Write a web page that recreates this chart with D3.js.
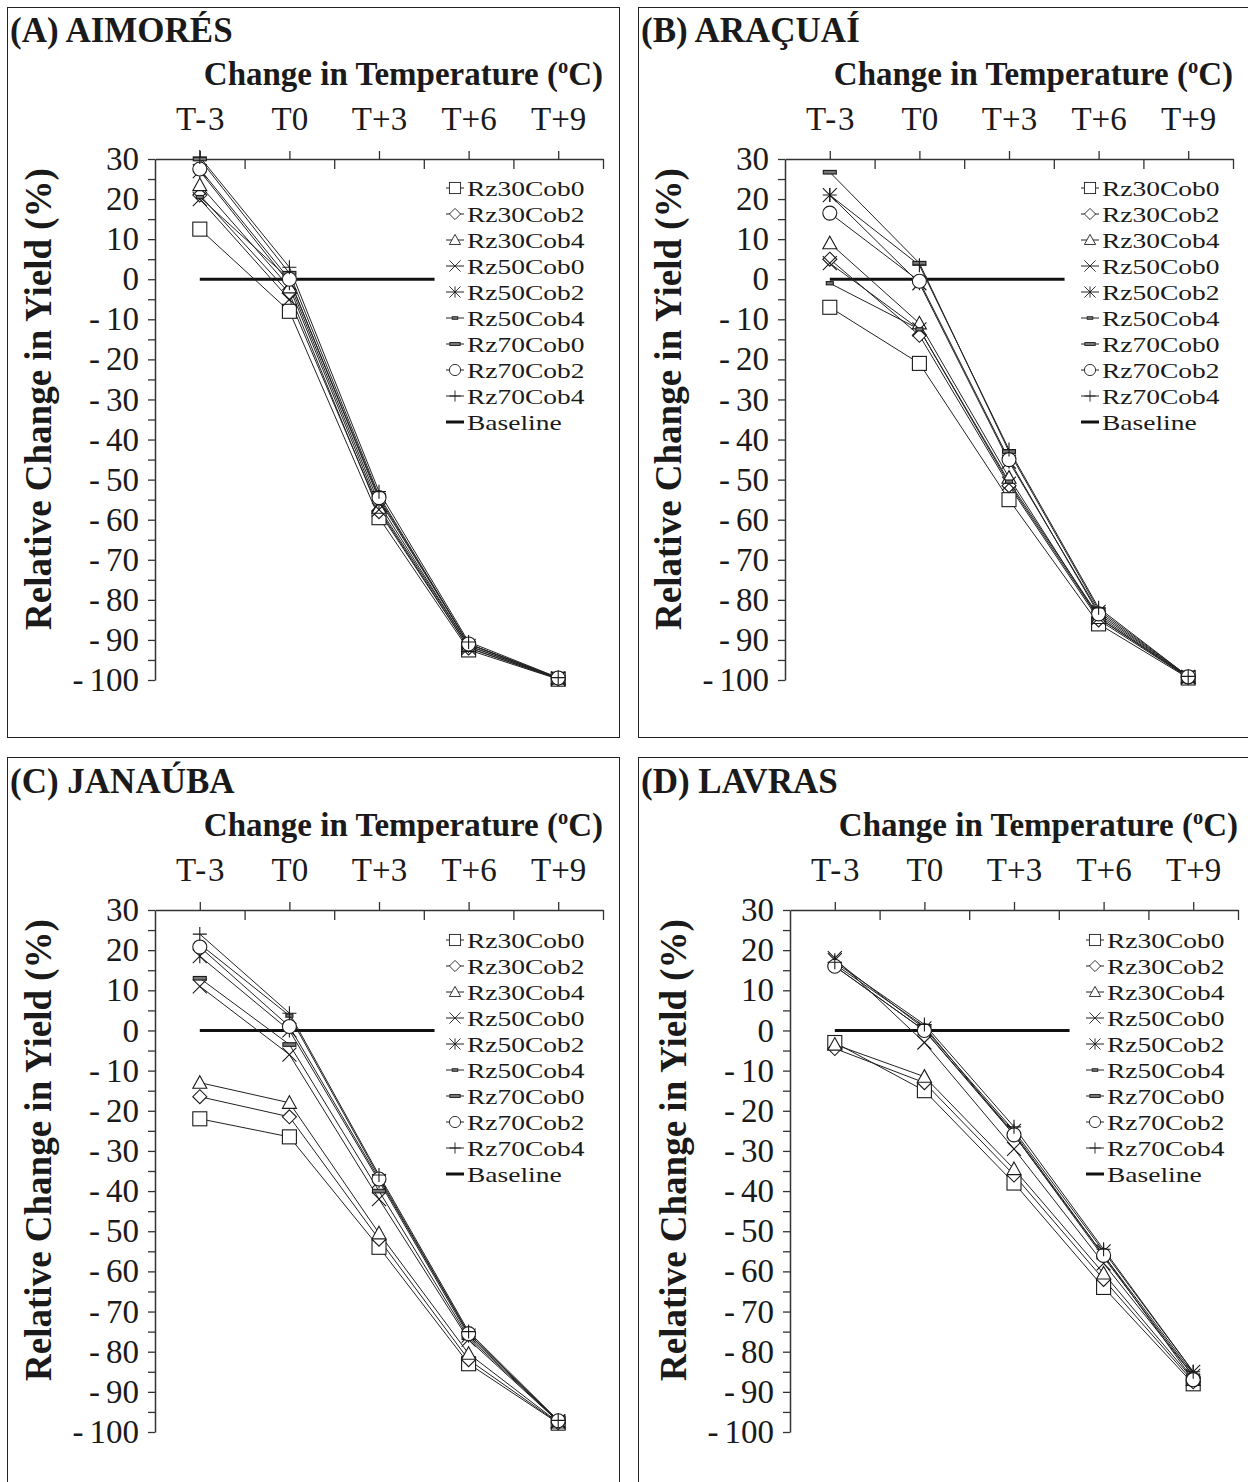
<!DOCTYPE html>
<html><head><meta charset="utf-8">
<script src="https://cdn.jsdelivr.net/npm/d3@7"></script>
<style>
body{margin:0;background:#fff}
text{font-family:"Liberation Serif","Times New Roman",serif;fill:#1a1a1a}
</style>
</head><body>
<svg id="chart" width="1248" height="1482"></svg>
<script>
// ---------- DATA ----------
const categories = ["T-3", "T0", "T+3", "T+6", "T+9"];
const seriesNames = ["Rz30Cob0","Rz30Cob2","Rz30Cob4","Rz50Cob0","Rz50Cob2","Rz50Cob4","Rz70Cob0","Rz70Cob2","Rz70Cob4"];
const yTickValues = [30, 20, 10, 0, -10, -20, -30, -40, -50, -60, -70, -80, -90, -100];
const panelTitles = ["(A) AIMORÉS", "(B) ARAÇUAÍ", "(C) JANAÚBA", "(D) LAVRAS"];
const xAxisTitle = "Change in Temperature (";
const yAxisTitle = "Relative Change in Yield (%)";
const baselineValue = 0;
const baselineSpan = [0, 2.62]; // category index range covered by the Baseline line

const aimoresValues = [
  [12.5, -8, -59.5, -92.5, -99.8],
  [21, -3.5, -58, -92, -99.7],
  [23.5, -2, -57, -91.5, -99.6],
  [20, -5, -57.5, -92, -99.7],
  [27, -1, -56, -91.5, -99.6],
  [20.5, 0, -55, -91, -99.5],
  [30, 1.5, -54, -91, -99.5],
  [27.5, 0, -54.5, -91, -99.5],
  [30.5, 3, -53, -90.5, -99.4]
];
const aracuaiValues = [
  [-7, -21, -55, -86, -99.5],
  [5, -14, -51.5, -85, -99.4],
  [9, -11, -49.5, -84.5, -99.3],
  [4, -12.5, -51, -84.5, -99.3],
  [21, -1, -45.5, -83, -99.2],
  [-1, -12.5, -50.5, -84, -99.3],
  [26.7, 4, -43, -82.5, -99.1],
  [16.5, -0.5, -45, -83.5, -99.2],
  [21, 3.5, -42.5, -82, -99.1]
];
const janaubaValues = [
  [-22, -26.5, -54, -83, -97.8],
  [-16.5, -21.5, -52, -82, -97.7],
  [-13, -18, -50.5, -80.5, -97.6],
  [11, -6, -42, -77, -97.4],
  [18.5, 0, -37.5, -76, -97.3],
  [21.5, 3.7, -36.5, -75.5, -97.2],
  [13, -3.5, -40, -76.5, -97.3],
  [20.8, 1, -37, -75.5, -97.2],
  [24, 4.3, -36, -75, -97.1]
];
const lavrasValues = [
  [-3, -15, -38, -64, -88],
  [-4.5, -13, -36, -62, -87.5],
  [-3.5, -11.5, -34.5, -60.5, -87],
  [18, -3, -29.5, -58, -86],
  [17.5, 0.5, -25, -55, -85],
  [16, 0, -25.5, -56, -85.5],
  [16.5, 1, -26, -56.5, -86],
  [16, 0, -26, -56, -87],
  [17, 1.5, -24, -54.5, -85]
];

// ---------- LAYOUT ----------
const panels = [
  {title: panelTitles[0], values: aimoresValues, box:[7.5,7.5], x0:155, x1:603, yTop:159, yBot:680, titleY:42, ytX:40, legX:455, legY:188},
  {title: panelTitles[1], values: aracuaiValues, box:[638.5,7.5], x0:785, x1:1233, yTop:159, yBot:680, titleY:42, ytX:670, legX:1090, legY:188},
  {title: panelTitles[2], values: janaubaValues, box:[7.5,757.5], x0:155, x1:603, yTop:910, yBot:1432, titleY:793, ytX:40, legX:455, legY:940},
  {title: panelTitles[3], values: lavrasValues, box:[638.5,757.5], x0:790, x1:1238, yTop:910, yBot:1432, titleY:793, ytX:675, legX:1095, legY:940}
];

const svg = d3.select("#chart");
const FONT = '"Liberation Serif","Times New Roman",serif';
const FS_TICK = 33, FS_TITLE = 35, FS_XTITLE = 33, FS_YTITLE = 37, FS_LEG = 22;

// split text around hyphens with a little extra spacing (wide dash look)
function spacedDash(sel, gapBefore, gapAfter) {
  sel.each(function() {
    const t = d3.select(this);
    const s = t.text();
    const k = s.indexOf("-");
    if (k < 0) return;
    t.text(null);
    if (k > 0) t.append("tspan").text(s.slice(0, k));
    t.append("tspan").attr("dx", k > 0 ? gapBefore : 0).text("-");
    t.append("tspan").attr("dx", gapAfter).text(s.slice(k + 1));
  });
}

// marker drawing
function marker(g, idx, cx, cy) {
  const s = 7;
  const st = {stroke:"#1a1a1a", "stroke-width":1.1, fill:"#fff"};
  let el;
  switch (idx) {
    case 0: el = g.append("rect").attr("x", cx-s).attr("y", cy-s).attr("width", 2*s).attr("height", 2*s); break;
    case 1: el = g.append("path").attr("d", `M${cx},${cy-s}L${cx+s},${cy}L${cx},${cy+s}L${cx-s},${cy}Z`); break;
    case 2: el = g.append("path").attr("d", `M${cx},${cy-s}L${cx+s},${cy+s*0.8}L${cx-s},${cy+s*0.8}Z`); break;
    case 3: el = g.append("path").attr("d", `M${cx-s},${cy-s}L${cx+s},${cy+s}M${cx+s},${cy-s}L${cx-s},${cy+s}`); break;
    case 4: el = g.append("path").attr("d", `M${cx-s},${cy-s}L${cx+s},${cy+s}M${cx+s},${cy-s}L${cx-s},${cy+s}M${cx},${cy-s}L${cx},${cy+s}`); break;
    case 5: el = g.append("rect").attr("x", cx-3.5).attr("y", cy-1.6).attr("width", 7).attr("height", 3.2); st.fill = "#777"; break;
    case 6: el = g.append("rect").attr("x", cx-6.5).attr("y", cy-1.8).attr("width", 13).attr("height", 3.6); st.fill = "#777"; break;
    case 7: el = g.append("circle").attr("cx", cx).attr("cy", cy).attr("r", s); break;
    case 8: el = g.append("path").attr("d", `M${cx-s},${cy}L${cx+s},${cy}M${cx},${cy-s}L${cx},${cy+s}`); break;
  }
  Object.entries(st).forEach(([k,v]) => el.attr(k, v));
  if (idx === 3 || idx === 4 || idx === 8) el.attr("fill", "none");
}

panels.forEach(p => {
  const g = svg.append("g");
  g.append("rect").attr("x", p.box[0]).attr("y", p.box[1]).attr("width", 612).attr("height", 730)
    .attr("fill", "none").attr("stroke", "#222").attr("stroke-width", 1);

  const xp = d3.scalePoint().domain(categories).range([p.x0, p.x1]).padding(0.5);
  const xi = d3.scaleLinear().domain([-0.5, categories.length - 0.5]).range([p.x0, p.x1]);
  const y = d3.scaleLinear().domain([-100, 30]).range([p.yBot, p.yTop]);

  // top category axis
  const ax = g.append("g").attr("transform", `translate(0,${p.yTop})`)
    .call(d3.axisTop(xp).tickSize(8).tickSizeOuter(0).tickPadding(21));
  ax.select(".domain").attr("stroke", "#333").attr("stroke-width", 1.5);
  ax.selectAll(".tick line").attr("stroke", "#333").attr("stroke-width", 1.3);
  ax.selectAll(".tick text").attr("font-size", FS_TICK).attr("fill", "#1a1a1a").attr("font-family", FONT)
    .call(spacedDash, 2, 2);
  const ax2 = g.append("g").attr("transform", `translate(0,${p.yTop})`)
    .call(d3.axisTop(xi).tickValues(d3.range(0.5, categories.length, 1)).tickSize(-10).tickSizeOuter(0).tickFormat(""));
  ax2.select(".domain").remove();
  ax2.selectAll(".tick line").attr("stroke", "#333").attr("stroke-width", 1.3);

  // left value axis
  const ay = g.append("g").attr("transform", `translate(${p.x0},0)`)
    .call(d3.axisLeft(y).tickValues(d3.range(-100, 31, 5)).tickSize(7).tickSizeOuter(0).tickPadding(9)
      .tickFormat(d => yTickValues.includes(d) ? String(d) : ""));
  ay.select(".domain").attr("stroke", "#333").attr("stroke-width", 1.5);
  ay.selectAll(".tick line").attr("stroke", "#333").attr("stroke-width", 1.3);
  ay.selectAll(".tick text").attr("font-size", FS_TICK).attr("fill", "#1a1a1a").attr("font-family", FONT)
    .call(spacedDash, 0, 6);

  // titles
  g.append("text").attr("x", p.box[0] + 2.5).attr("y", p.titleY).attr("font-size", FS_TITLE).attr("font-weight", "bold").text(p.title);
  const xt = g.append("text").attr("x", p.x1).attr("y", p.titleY + 43).attr("text-anchor", "end")
    .attr("font-size", FS_XTITLE).attr("font-weight", "bold");
  xt.append("tspan").text(xAxisTitle);
  xt.append("tspan").attr("font-size", FS_XTITLE * 0.62).attr("dy", -12).text("o");
  xt.append("tspan").attr("dy", 12).text("C)");
  g.append("text").attr("transform", `translate(${p.ytX + 11},${p.yTop + 240}) rotate(-90)`)
    .attr("text-anchor", "middle").attr("font-size", FS_YTITLE).attr("font-weight", "bold").text(yAxisTitle);

  // baseline
  g.append("line").attr("x1", xi(baselineSpan[0])).attr("x2", xi(baselineSpan[1]))
    .attr("y1", y(baselineValue)).attr("y2", y(baselineValue)).attr("stroke", "#111").attr("stroke-width", 3);

  // series lines and markers
  const line = d3.line().x((d, i) => xp(categories[i])).y(d => y(d));
  p.values.forEach(vals => {
    g.append("path").attr("d", line(vals)).attr("fill", "none").attr("stroke", "#222").attr("stroke-width", 1);
  });
  p.values.forEach((vals, si) => {
    vals.forEach((v, i) => marker(g, si, xp(categories[i]), y(v)));
  });

  // legend
  const rowH = 26;
  seriesNames.concat(["Baseline"]).forEach((name, i) => {
    const cy = p.legY + i * rowH;
    if (i < seriesNames.length) {
      g.append("line").attr("x1", p.legX - 9).attr("x2", p.legX + 9).attr("y1", cy).attr("y2", cy)
        .attr("stroke", "#222").attr("stroke-width", 1);
      const lg = g.append("g")
        .attr("transform", `translate(${p.legX},${cy}) scale(0.8) translate(${-p.legX},${-cy})`);
      marker(lg, i, p.legX, cy);
    } else {
      g.append("line").attr("x1", p.legX - 9).attr("x2", p.legX + 9).attr("y1", cy).attr("y2", cy)
        .attr("stroke", "#111").attr("stroke-width", 3);
    }
    g.append("text")
      .attr("transform", `translate(${p.legX + 12},${cy + 8}) scale(1.25,1)`)
      .attr("font-size", FS_LEG).text(name);
  });
});
</script>
</body></html>
